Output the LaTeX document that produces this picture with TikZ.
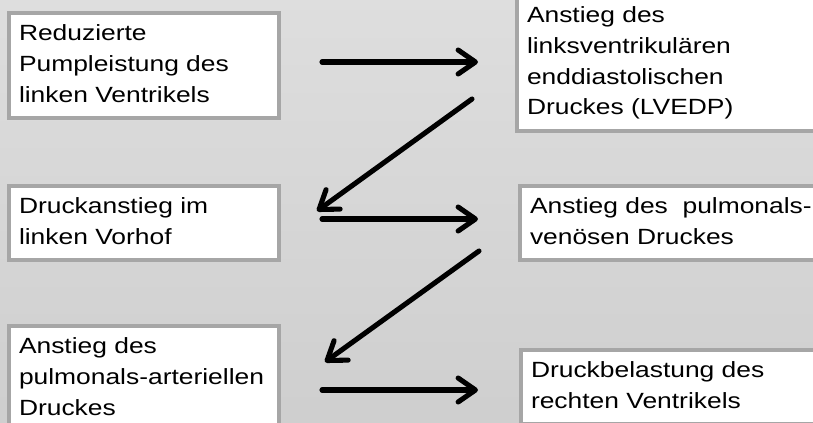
\documentclass[tikz,border=0pt]{standalone}
\usepackage{fontspec}
\setmainfont{Liberation Sans}[FakeStretch=1.2]
\usetikzlibrary{positioning, arrows.meta}

\tikzset{
  kasten/.style={draw=black!35, line width=3pt, fill=white, rectangle, anchor=north west,
    align=left, inner xsep=7.5pt, inner ysep=4.9pt,
    font=\fontsize{16.5}{23}\selectfont,
    execute at begin node=\strut, execute at end node=\strut},
  links/.style={kasten, text width=187.5pt},
  rechts/.style={kasten, text width=232.5pt},
  pfeil/.style={line width=3.8pt, line cap=round,
    -{Straight Barb[length=13pt, width=18pt, line cap=round, line join=round]}}
}

\begin{document}
\begin{tikzpicture}[x=0.75pt, y=-0.75pt]
        \useasboundingbox (0,0) rectangle (813,423);
        \clip (0,0) rectangle (813,423);
        \shade[top color=black!13, middle color=black!3, bottom color=black!19] (0,0) rectangle (813,423);
        % Kaesten
        \node[links]  (pumpe)    at (7,11)    {Reduzierte\\Pumpleistung des\\linken Ventrikels};
        \node[rechts] (lvedp)    at (515,-7)  {Anstieg des\\linksventrikulären\\enddiastolischen\\Druckes (LVEDP)};
        \node[links]  (vorhof)   at (7,184)   {Druckanstieg im\\linken Vorhof};
        \node[rechts] (venoes)   at (518,184) {Anstieg des\ \ pulmonals-\\venösen Druckes};
        \node[links]  (arteriell) at (7,324)  {Anstieg des\\pulmonals-arteriellen\\Druckes};
        \node[rechts] (rechts)   at (519,348) {Druckbelastung des\\rechten Ventrikels};
        % Pfeile
        \coordinate (p1a) at (322,62);  \coordinate (p1b) at (478,62);
        \coordinate (p2a) at (472,99);  \coordinate (p2b) at (317,211);
        \coordinate (p3a) at (322,219); \coordinate (p3b) at (478,219);
        \coordinate (p4a) at (479,251); \coordinate (p4b) at (325,362);
        \coordinate (p5a) at (322,390); \coordinate (p5b) at (478,390);
        \draw[pfeil] (p1a) -- (p1b);
        \draw[pfeil] (p2a) -- (p2b);
        \draw[pfeil] (p3a) -- (p3b);
        \draw[pfeil] (p4a) -- (p4b);
        \draw[pfeil] (p5a) -- (p5b);
\end{tikzpicture}
\end{document}
